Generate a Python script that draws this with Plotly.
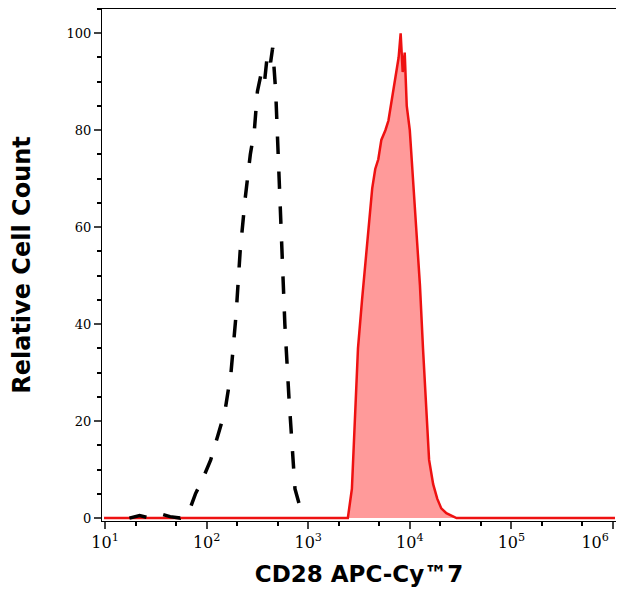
import plotly.graph_objects as go

ctrl_log = [1.30, 1.40, 1.50, 1.62, 1.70, 1.80, 1.88, 1.95, 2.02, 2.10, 2.17, 2.24, 2.30, 2.35, 2.39, 2.44, 2.49, 2.53, 2.56, 2.60, 2.63, 2.66, 2.69, 2.71, 2.74, 2.77, 2.80, 2.83, 2.87, 2.90, 2.93, 2.97, 3.01, 3.05]
ctrl_y   = [0, 0.5, 0, 0.8, 0.3, 0, 1, 5, 8, 12, 17, 22, 30, 42, 55, 66, 75, 80, 88, 92, 90, 96, 94, 97, 88, 72, 58, 40, 25, 14, 6, 3, 1, 0]

cd28_log = [1.00, 2.0, 3.00, 3.40, 3.44, 3.47, 3.50, 3.54, 3.57, 3.61, 3.64, 3.67, 3.70, 3.73, 3.77, 3.80, 3.83, 3.85, 3.88, 3.90, 3.92, 3.94, 3.96, 3.98, 4.01, 4.04, 4.07, 4.11, 4.14, 4.17, 4.20, 4.24, 4.28, 4.32, 4.37, 4.42, 4.47, 5.0, 6.03]
cd28_y   = [0, 0, 0, 0, 6, 20, 35, 45, 52, 62, 68, 72, 74, 78, 80, 82, 86, 88, 92, 95, 100, 92, 96, 85, 80, 70, 60, 48, 35, 22, 12, 7, 4, 2, 1, 0.5, 0, 0, 0]
tick_labels = ["10<sup>1</sup>", "10<sup>2</sup>", "10<sup>3</sup>", "10<sup>4</sup>", "10<sup>5</sup>",
               "10<sup>6</sup>&nbsp;&nbsp;&nbsp;&nbsp;&nbsp;&nbsp;&nbsp;"]

ctrl_shift = -0.06
cd28_shift = -0.01

fig = go.Figure()
fig.add_trace(go.Scatter(x=[10**min(v + cd28_shift, 6.03) for v in cd28_log], y=cd28_y, mode="lines",
                         line=dict(color="#ee1111", width=2.5), fill="tozeroy",
                         fillcolor="rgba(255,120,120,0.75)", showlegend=False))
fig.add_trace(go.Scatter(x=[10**(v + ctrl_shift) for v in ctrl_log], y=ctrl_y, mode="lines",
                         line=dict(color="black", width=3.5, dash="longdash"), showlegend=False))

fig.update_layout(
    width=616, height=594, margin=dict(l=94, r=8, t=1, b=81),
    plot_bgcolor="white", paper_bgcolor="white",
    xaxis=dict(type="log", range=[0.97, 6.03], automargin=False, ticklabeloverflow="allow",
               tickvals=[10**i for i in range(1, 7)], ticktext=tick_labels,
               ticks="outside", ticklen=7, tickwidth=2, showgrid=False,
               showline=True, linecolor="black", mirror=True, linewidth=1,
               minor=dict(ticks="outside", ticklen=4, tickcolor="black", showgrid=False),
               tickfont=dict(family="DejaVu Serif", size=16, color="black"),
               title=dict(text="<b>CD28 APC-Cy™7</b>", font=dict(family="DejaVu Sans", size=23, color="black"), standoff=14)),
    yaxis=dict(range=[-0.6, 105], tickvals=[0, 20, 40, 60, 80, 100], automargin=False,
               ticks="outside", ticklen=7, tickwidth=2, showgrid=False, zeroline=False,
               showline=True, linecolor="black", mirror=True, linewidth=1,
               minor=dict(dtick=5, ticks="outside", ticklen=4, tickcolor="black", showgrid=False),
               tickfont=dict(family="DejaVu Serif", size=13, color="black"),
               title=dict(text="<b>Relative Cell Count</b>", font=dict(family="DejaVu Sans", size=24, color="black"), standoff=40)),
)
fig.write_html("out.html")
